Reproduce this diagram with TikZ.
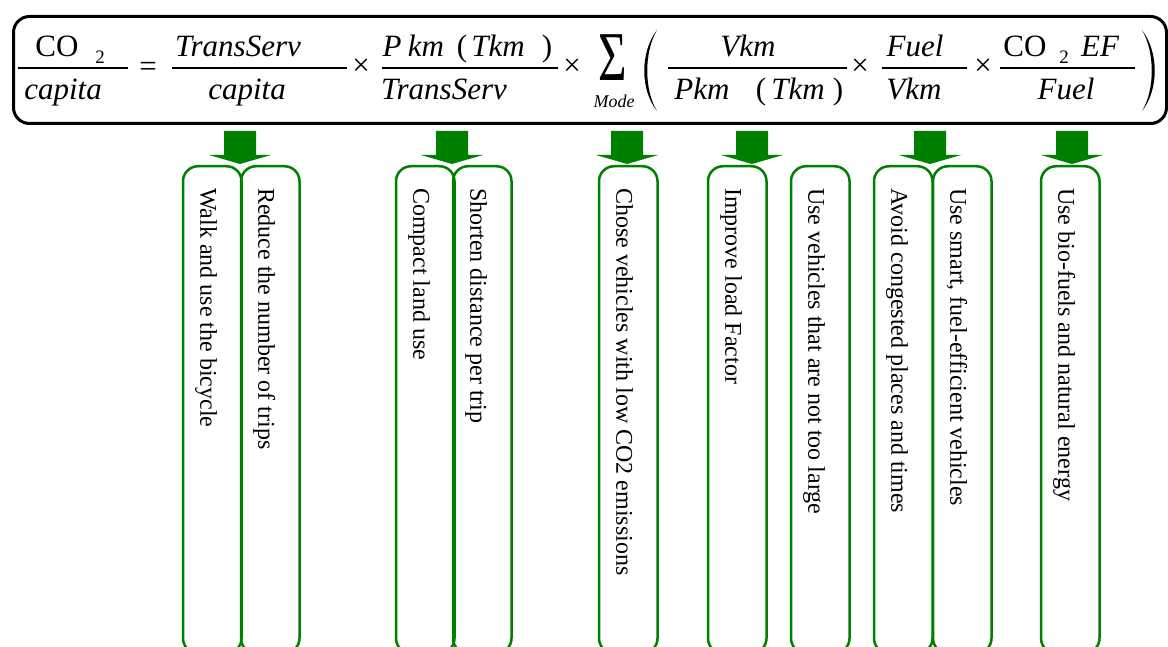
\documentclass[tikz,border=0pt]{standalone}
\usepackage{fontspec}
\setmainfont{Liberation Serif}
\usetikzlibrary{calc}
\definecolor{grn}{RGB}{0,128,0}
\begin{document}
\begin{tikzpicture}[x=1pt,y=-1pt,
  eqt/.style={inner sep=0, anchor=base, font=\fontsize{31}{31}\selectfont\itshape},
  eqr/.style={inner sep=0, anchor=base, font=\fontsize{31}{31}\selectfont},
  subs/.style={inner sep=0, anchor=base, font=\fontsize{19}{19}\selectfont},
  fracline/.style={line width=1.3pt},
  gbox/.style={draw=grn, line width=2.5pt, rounded corners=15pt, minimum width=58.5pt, minimum height=487pt, anchor=north, inner sep=0},
  vtext/.style={rotate=-90, anchor=base west, inner sep=0, font=\fontsize{24}{24}\selectfont},
  garrow/.pic={\fill[grn] (0,0) -- (31,-9) -- (16,-9) -- (16,-33) -- (-16,-33) -- (-16,-9) -- (-31,-9) -- cycle;}
]
\useasboundingbox (0,0) rectangle (1168,647);
\clip (0,0) rectangle (1168,647);
\fill[white] (0,0) rectangle (1168,647);

% equation frame
\node[draw, line width=3pt, rounded corners=16pt, minimum width=1153pt, minimum height=107pt, anchor=north west, inner sep=0] (eq) at (12,15) {};

% CO2 / capita
\node[eqr] (co1) at (57,57) {CO};
\node[subs] (s1) at (100,64) {2};
\draw[fracline] (18,68) -- (128,68);
\node[eqt] (cap1) at (63,100) {capita};
\node[eqr] (eqs) at (148,77) {=};
% TransServ / capita
\node[eqt] (ts1) at (238,57) {TransServ};
\draw[fracline] (172,68) -- (347,68);
\node[eqt] (cap2) at (247,100) {capita};
\node[eqr] (x1) at (361,76) {×};
% Pkm (Tkm) / TransServ
\node[eqt] (p1) at (392,57) {P};
\node[eqt] (km1) at (426,57) {km};
\node[eqr] (lp1) at (462,57) {(};
\node[eqt] (tkm1) at (498,57) {Tkm};
\node[eqr] (rp1) at (547,57) {)};
\draw[fracline] (382,68) -- (558,68);
\node[eqt] (ts2) at (444,100) {TransServ};
\node[eqr] (x2) at (572,76) {×};
% sum
\node[inner sep=0, anchor=base, xscale=0.7, font=\fontsize{70}{70}\selectfont] (sig) at (613,81) {Σ};
\node[inner sep=0, anchor=base, font=\fontsize{18}{18}\selectfont\itshape] (mode) at (614,108) {Mode};
\fill (657,30) .. controls (640,52) and (640,90) .. (657,111) .. controls (644,90) and (644,52) .. (657,30) -- cycle;
% Vkm / Pkm (Tkm)
\node[eqt] (vkm1) at (748,57) {Vkm};
\draw[fracline] (668,68) -- (847,68);
\node[eqt] (pkm2) at (702,100) {Pkm};
\node[eqr] (lp2) at (761,100) {(};
\node[eqt] (tkm2) at (798,100) {Tkm};
\node[eqr] (rp2) at (838,100) {)};
\node[eqr] (x3) at (860,76) {×};
% Fuel / Vkm
\node[eqt] (fuel1) at (915,57) {Fuel};
\draw[fracline] (882,68) -- (967,68);
\node[eqt] (vkm2) at (914,100) {Vkm};
\node[eqr] (x4) at (983,76) {×};
% CO2EF / Fuel
\node[eqr] (co2) at (1025,57) {CO};
\node[subs] (s2) at (1064,64) {2};
\node[eqt] (ef) at (1100,57) {EF};
\draw[fracline] (1000,68) -- (1135,68);
\node[eqt] (fuel2) at (1066,100) {Fuel};
\fill (1142,30) .. controls (1159,52) and (1159,90) .. (1142,111) .. controls (1155,90) and (1155,52) .. (1142,30) -- cycle;

% boxes
\node[gbox] (b1) at (212.25,165) {};
\node[gbox] (b2) at (270.25,165) {};
\node[gbox] (b3) at (425.25,165) {};
\node[gbox] (b4) at (482.25,165) {};
\node[gbox] (b5) at (628.25,165) {};
\node[gbox] (b6) at (737.25,165) {};
\node[gbox] (b7) at (820.25,165) {};
\node[gbox] (b8) at (903.25,165) {};
\node[gbox] (b9) at (962.25,165) {};
\node[gbox] (b10) at (1070.25,165) {};

\node[vtext] (t1) at ($(b1.north)+(-12,23)$) {Walk and use the bicycle};
\node[vtext] (t2) at ($(b2.north)+(-12,23)$) {Reduce the number of trips};
\node[vtext] (t3) at ($(b3.north)+(-12,23)$) {Compact land use};
\node[vtext] (t4) at ($(b4.north)+(-12,23)$) {Shorten distance per trip};
\node[vtext] (t5) at ($(b5.north)+(-12,23)$) {Chose vehicles with low CO2 emissions};
\node[vtext] (t6) at ($(b6.north)+(-12,23)$) {Improve load Factor};
\node[vtext] (t7) at ($(b7.north)+(-12,23)$) {Use vehicles that are not too large};
\node[vtext] (t8) at ($(b8.north)+(-12,23)$) {Avoid congested places and times};
\node[vtext] (t9) at ($(b9.north)+(-12,23)$) {Use smart, fuel-efficient vehicles};
\node[vtext] (t10) at ($(b10.north)+(-12,23)$) {Use bio-fuels and natural energy};

% arrows
\coordinate (a1) at (240,164);
\coordinate (a2) at (452,164);
\coordinate (a3) at (627,164);
\coordinate (a4) at (752,164);
\coordinate (a5) at (930,164);
\coordinate (a6) at (1072,164);
\foreach \a in {a1,a2,a3,a4,a5,a6} {\pic at (\a) {garrow};}
\end{tikzpicture}
\end{document}
